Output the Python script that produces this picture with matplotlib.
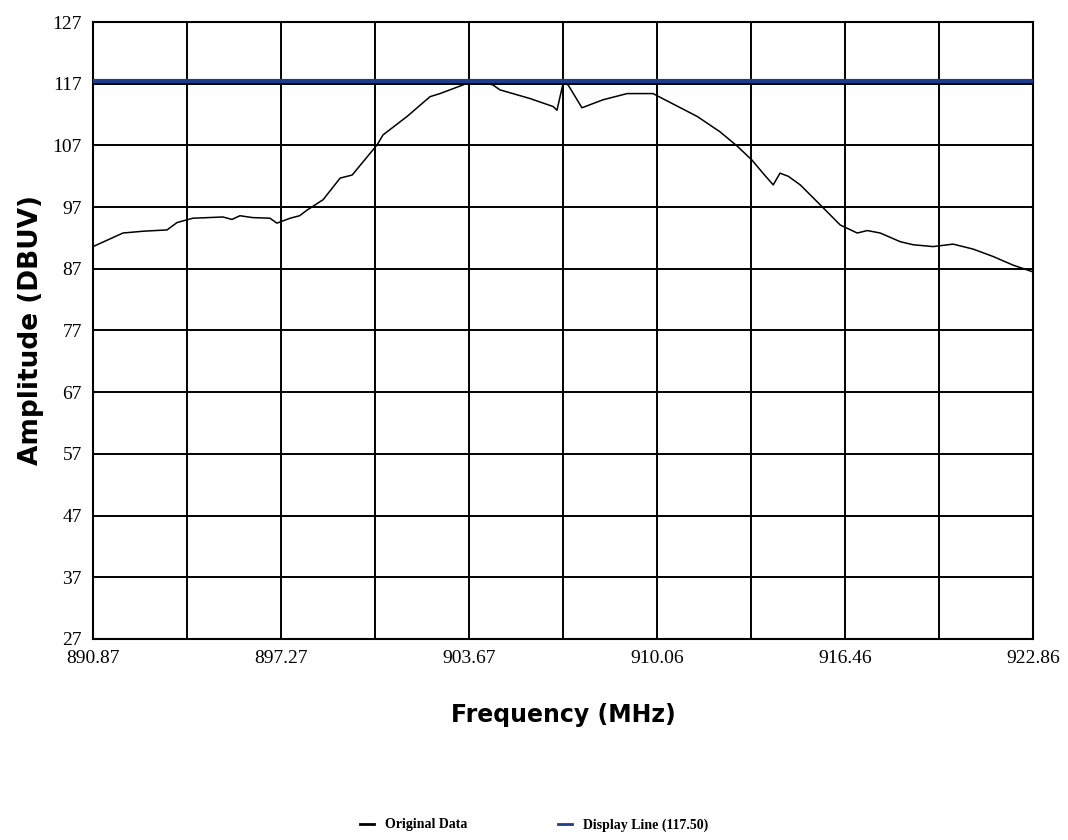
import matplotlib
matplotlib.use("Agg")
import matplotlib.pyplot as plt
from matplotlib.lines import Line2D

freq_mhz = [890.87, 891.89, 892.60, 893.39, 893.73, 894.27, 894.80, 895.29, 895.60, 895.87,
            896.30, 896.89, 897.13, 897.58, 897.90, 898.15, 898.70, 899.28, 899.69, 900.54,
            900.74, 901.56, 902.34, 902.68, 903.46, 903.63, 904.14, 904.48, 904.72, 905.74,
            906.53, 906.66, 906.87, 907.04, 907.51, 908.23, 909.05, 909.93, 910.17, 911.43,
            912.21, 912.79, 913.30, 913.67, 914.02, 914.25, 914.53, 914.94, 915.55, 916.30,
            916.88, 917.22, 917.66, 918.34, 918.78, 919.46, 920.14, 920.82, 921.50, 922.18,
            922.86]
amplitude = [90.6, 92.8, 93.1, 93.3, 94.5, 95.2, 95.3, 95.4, 95.0, 95.6,
             95.3, 95.2, 94.4, 95.2, 95.6, 96.5, 98.2, 101.7, 102.2, 107.1,
             108.7, 111.7, 114.9, 115.4, 116.8, 117.2, 117.2, 116.8, 116.0, 114.6,
             113.3, 112.7, 117.1, 116.8, 113.1, 114.4, 115.4, 115.4, 114.8, 111.7,
             109.2, 106.9, 104.6, 102.5, 100.6, 102.5, 102.0, 100.6, 97.7, 94.1,
             92.8, 93.2, 92.8, 91.4, 90.9, 90.6, 91.0, 90.2, 89.0, 87.6,
             86.5]
display_level = 117.50
x_ticks = [890.87, 897.27, 903.67, 910.06, 916.46, 922.86]
y_ticks = [27, 37, 47, 57, 67, 77, 87, 97, 107, 117, 127]

fig = plt.figure(figsize=(10.68, 8.4), dpi=100)
ax = fig.add_axes([0.0871, 0.2393, 0.8801, 0.7345])

x0, x1 = x_ticks[0], x_ticks[-1]
ax.set_xlim(x0, x1)
ax.set_ylim(y_ticks[0], y_ticks[-1])

# grid: major at labels, plus half-step verticals
step = (x1 - x0) / 10.0
for i in range(1, 10):
    ax.axvline(x0 + i * step, color="black", lw=1.4, zorder=1)
for yv in y_ticks[1:-1]:
    ax.axhline(yv, color="black", lw=1.4, zorder=1)

ax.plot(freq_mhz, amplitude, color="black", lw=1.1, zorder=3)
ax.axhline(display_level, color="#1c3c8c", lw=3, zorder=4)

ax.set_xticks(x_ticks)
ax.set_xticklabels([f"{v:.2f}" for v in x_ticks])
ax.set_yticks(y_ticks)
ax.tick_params(length=0, labelsize=14, pad=8)
for lab in ax.get_xticklabels() + ax.get_yticklabels():
    lab.set_fontfamily("Liberation Serif")
for sp in ax.spines.values():
    sp.set_linewidth(1.5)

ax.set_xlabel("Frequency (MHz)", fontsize=17, fontweight="bold", labelpad=26)
ax.set_ylabel("Amplitude (DBUV)", fontsize=19, fontweight="bold", labelpad=6)

handles = [Line2D([], [], color="black", lw=2),
           Line2D([], [], color="#1c3c8c", lw=2)]
fig.legend(handles, ["Original Data", "Display Line (117.50)"],
           loc="center", bbox_to_anchor=(0.50, 0.018), ncol=2, frameon=False,
           handlelength=1.0, columnspacing=6.5,
           prop={"family": "Liberation Serif", "weight": "bold", "size": 10})

fig.savefig("out.png", dpi=100)
